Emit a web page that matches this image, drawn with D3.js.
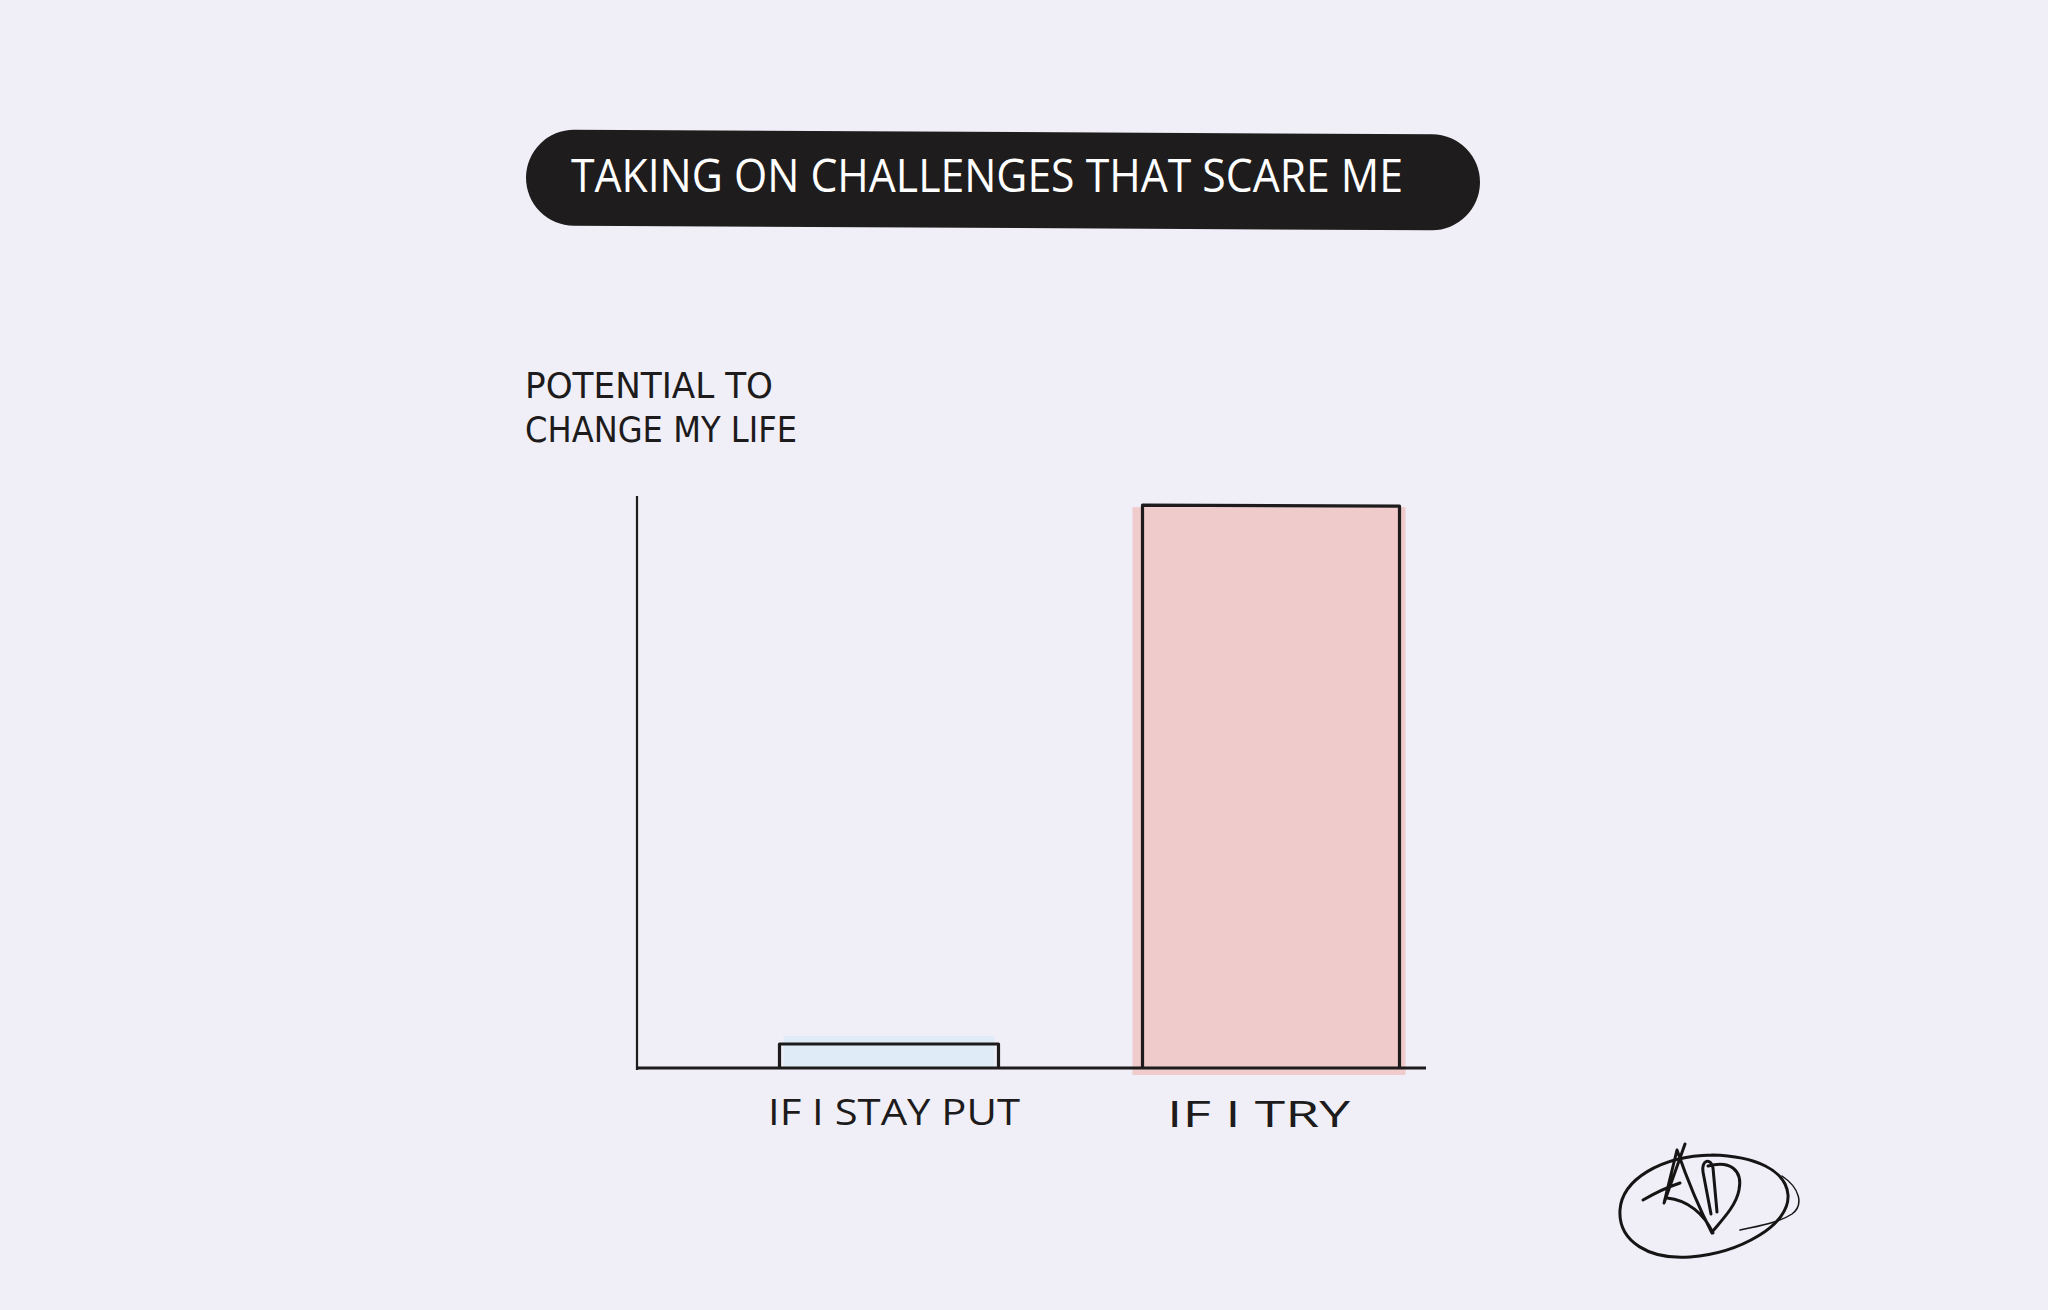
<!DOCTYPE html>
<html>
<head>
<meta charset="utf-8">
<script src="https://cdn.jsdelivr.net/npm/d3@7"></script>
<style>
  html, body { margin: 0; padding: 0; background: #f0eff7; }
  svg { display: block; }
</style>
</head>
<body>
<script>
// ---- data ----
const title = "TAKING ON CHALLENGES THAT SCARE ME";
const yLabelLines = ["POTENTIAL TO", "CHANGE MY LIFE"];
const categories = ["IF I STAY PUT", "IF I TRY"];
const values = [4.2, 98.4];
const barColors = ["#ddebf8", "#efc8c8"];
const yDomain = [0, 100];

const W = 2048, H = 1310;
const ink = "#1d1b1b";
const font = "'Open Sans', 'DejaVu Sans', sans-serif";
const widthAdj = [-19, 19];   // hand-drawn bars are not the same width

const svg = d3.select("body").append("svg").attr("width", W).attr("height", H);
svg.append("rect").attr("width", W).attr("height", H).attr("fill", "#f0eff7");

// ---- title pill ----
const pill = svg.append("g");
pill.append("rect").attr("x", 526).attr("y", 132).attr("width", 954).attr("height", 96)
  .attr("rx", 48).attr("ry", 48).attr("fill", "#1e1c1c")
  .attr("transform", "rotate(0.3 1003 180)");
pill.append("text").attr("x", 571).attr("y", 192)
  .attr("fill", "#ffffff").attr("font-family", font).attr("font-size", 46)
  .attr("textLength", 832).attr("lengthAdjust", "spacingAndGlyphs")
  .text(title);

// ---- scales ----
const x = d3.scaleBand().domain(categories).range([770, 1390]).paddingInner(0.377).paddingOuter(0);
const y = d3.scaleLinear().domain(yDomain).range([1068, 496]);
const x0 = 637, x1 = 1426;
const barL = (d, i) => x(d) + x.bandwidth() / 2 - (x.bandwidth() + widthAdj[i]) / 2;
const barW = (d, i) => x.bandwidth() + widthAdj[i];

// ---- y label ----
const yl = svg.append("text").attr("font-family", "'DejaVu Sans', sans-serif").attr("font-size", 36).attr("fill", ink);
yl.selectAll("tspan").data(yLabelLines).join("tspan")
  .attr("x", 525).attr("y", (d, i) => 398 + i * 44)
  .attr("textLength", (d, i) => i === 0 ? 248 : 272)
  .attr("lengthAdjust", "spacingAndGlyphs")
  .text(d => d);

// ---- bar fills (marker-like, slightly overshooting the outline) ----
const g = svg.append("g");
g.selectAll("rect.fill").data(categories).join("rect")
  .attr("class", "fill")
  .attr("x", (d, i) => barL(d, i) + (i === 1 ? -10 : 4))
  .attr("y", (d, i) => y(values[i]) + (i === 0 ? -8 : 2))
  .attr("width", (d, i) => barW(d, i) + (i === 1 ? 16 : -8))
  .attr("height", (d, i) => y(0) - y(values[i]) + (i === 0 ? 8 : 5))
  .attr("fill", (d, i) => barColors[i])
  .attr("opacity", 0.95);

// ---- bar outlines: left, top, right ----
g.selectAll("path.outline").data(categories).join("path")
  .attr("class", "outline")
  .attr("d", (d, i) => {
    const l = barL(d, i), r = l + barW(d, i), t = y(values[i]), b = y(0);
    return `M${l},${b} L${l},${t} L${r},${t + (i === 1 ? 1 : 0)} L${r},${b}`;
  })
  .attr("fill", "none").attr("stroke", ink).attr("stroke-width", 3.2)
  .attr("stroke-linejoin", "round");

// ---- axes ----
svg.append("line").attr("x1", x0).attr("x2", x0).attr("y1", y(yDomain[1])).attr("y2", y(0) + 2)
  .attr("stroke", ink).attr("stroke-width", 2.2);
svg.append("line").attr("x1", x0 + 1).attr("x2", x1).attr("y1", y(0)).attr("y2", y(0))
  .attr("stroke", ink).attr("stroke-width", 3);

// ---- category labels ----
svg.selectAll("text.cat").data(categories).join("text")
  .attr("class", "cat")
  .attr("x", (d, i) => i === 0 ? 768 : 1167)
  .attr("y", (d, i) => i === 0 ? 1125 : 1127)
  .attr("font-family", font).attr("font-size", 37).attr("fill", ink)
  .attr("textLength", (d, i) => i === 0 ? 252 : 183)
  .attr("lengthAdjust", "spacingAndGlyphs")
  .text(d => d);

// ---- signature ----
const sig = svg.append("g").attr("fill", "none").attr("stroke", "#161414")
  .attr("stroke-linecap", "round").attr("stroke-linejoin", "round");
sig.append("path").attr("stroke-width", 3)
  .attr("d", "M1712,1155 C1660,1156 1622,1180 1620,1210 C1618,1242 1650,1260 1690,1257 C1740,1253 1790,1225 1788,1195 C1786,1170 1755,1156 1712,1155");
sig.append("path").attr("stroke-width", 1.5)
  .attr("d", "M1782,1176 C1800,1188 1804,1205 1792,1214 C1780,1222 1760,1226 1740,1230");
sig.append("path").attr("stroke-width", 3)
  .attr("d", "M1685,1144 L1664,1203 L1677,1150 C1686,1176 1700,1210 1712,1233 " +
             "M1643,1200 C1655,1193 1668,1187 1680,1183 " +
             "M1667,1198 C1688,1200 1704,1214 1713,1233 " +
             "M1703,1172 C1701,1160 1711,1157 1713,1168 L1717,1212 M1703,1172 L1711,1214 " +
             "M1708,1166 C1730,1160 1743,1170 1739,1190 C1736,1206 1722,1220 1712,1232");
</script>
</body>
</html>
